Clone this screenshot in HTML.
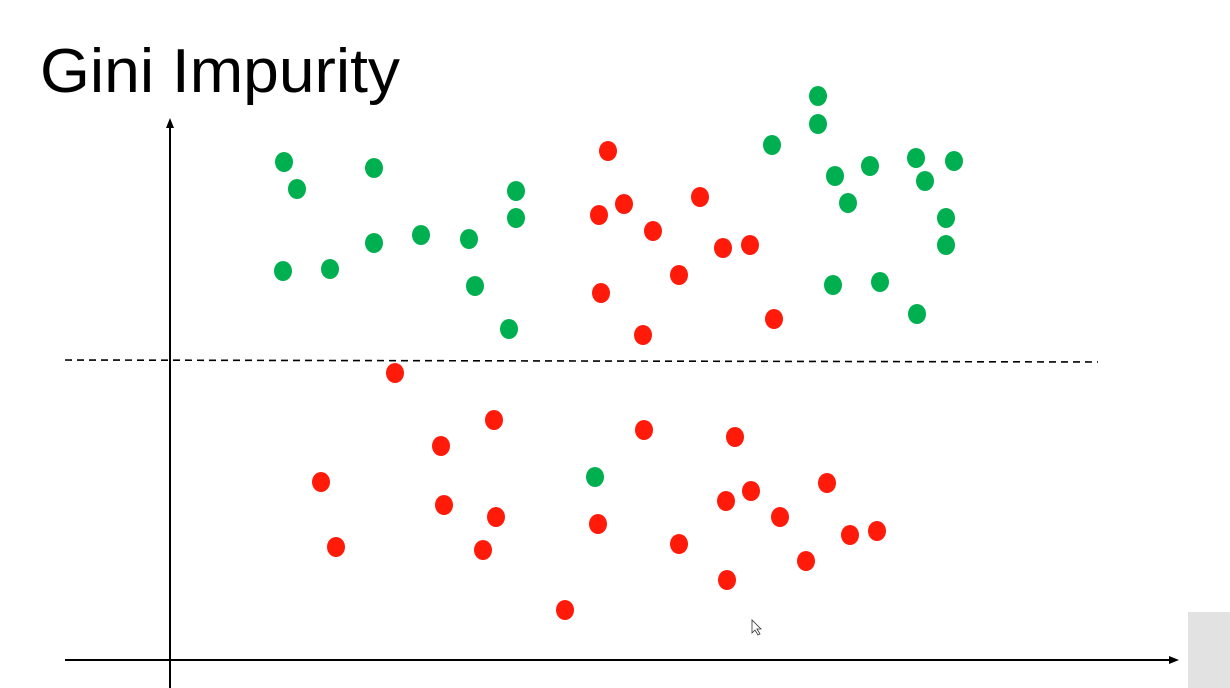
<!DOCTYPE html>
<html><head><meta charset="utf-8"><style>
html,body{margin:0;padding:0;background:#fff;}
svg{display:block;}
</style></head><body>
<svg id="chart" width="1230" height="688" viewBox="0 0 1230 688" xmlns="http://www.w3.org/2000/svg">
<rect x="0" y="0" width="1230" height="688" fill="#ffffff"/>
<text x="40" y="92" font-family="Liberation Sans, sans-serif" font-size="62" textLength="360" lengthAdjust="spacingAndGlyphs" fill="#000">Gini Impurity</text>
<line x1="170" y1="688" x2="170" y2="126" stroke="#000" stroke-width="2"/>
<polygon points="170,118 166,128 174,128" fill="#000"/>
<line x1="65" y1="660" x2="1170" y2="660" stroke="#000" stroke-width="2"/>
<polygon points="1179,660 1169,656 1169,664" fill="#000"/>
<line x1="65" y1="360" x2="1098" y2="362" stroke="#000" stroke-width="1.6" stroke-dasharray="7,5"/>
<g id="points"></g>
<rect x="1188" y="612" width="42" height="76" fill="#cfcfcf" opacity="0.6"/>
<path d="M752,620 L752,633 L755,630 L758,635 L760,634 L757,629 L761,629 Z" fill="#fff" stroke="#333" stroke-width="0.8"/>
</svg>
<script>
const greenX=[114,127,204,113,160,204,251,299,305,346,346,339,648,648,602,665,700,746,784,755,678,776,776,663,710,747,425];
const greenY=[498,471,492,389,391,417,425,421,374,469,442,331,564,536,515,484,494,502,499,479,457,442,415,375,378,346,183];
const redX=[438,429,454,483,530,553,580,509,431,473,604,225,151,166,271,324,274,326,313,395,474,428,509,565,556,581,610,657,680,707,636,557];
const redY=[509,445,456,429,463,412,415,385,367,325,341,287,178,113,214,240,155,143,110,50,230,136,116,223,159,169,143,177,125,129,99,80];
function xScale(v){return 170+v;}
function yScale(v){return 660-v;}
const g=document.getElementById('points');
function draw(xs,ys,color,name){
  for(let i=0;i<xs.length;i++){
    const e=document.createElementNS('http://www.w3.org/2000/svg','ellipse');
    e.setAttribute('cx',xScale(xs[i]));
    e.setAttribute('cy',yScale(ys[i]));
    e.setAttribute('rx',9);
    e.setAttribute('ry',10);
    e.setAttribute('fill',color);
    
    
    g.appendChild(e);
  }
}
draw(greenX,greenY,'#00b050','green-point');
draw(redX,redY,'#ff1a0a','red-point');
</script>
</body></html>
